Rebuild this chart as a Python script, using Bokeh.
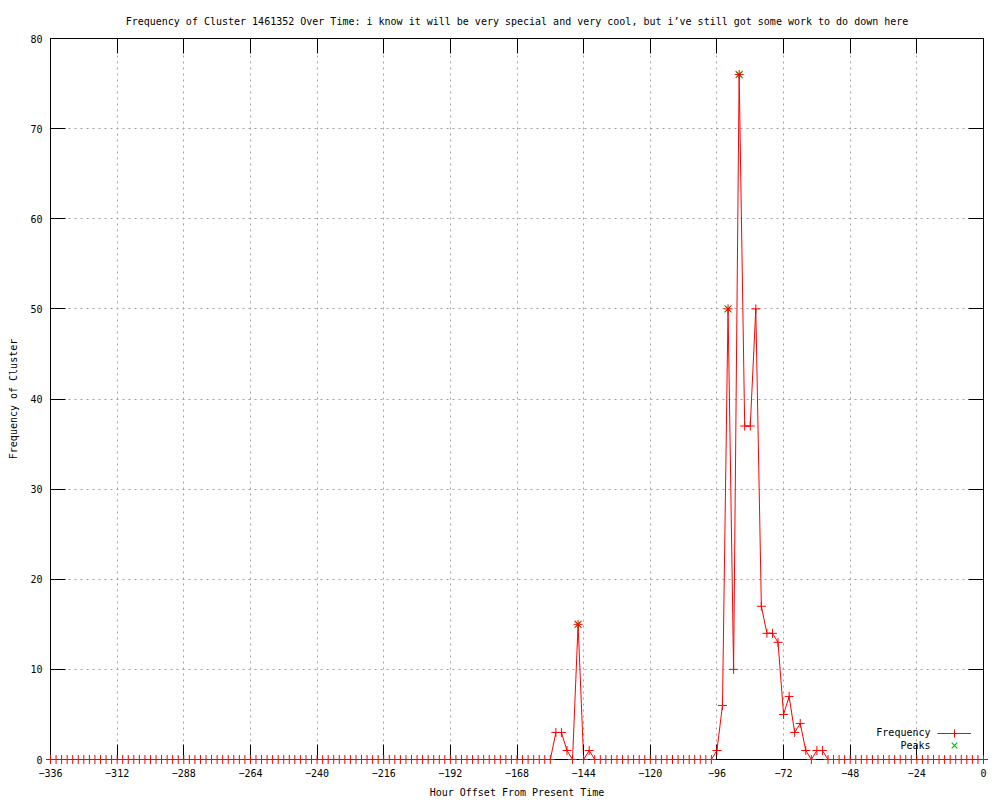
from bokeh.plotting import figure
from bokeh.models import Range1d, FixedTicker, LinearAxis, Legend, LegendItem, Label
from bokeh.embed import file_html
from bokeh.resources import INLINE

# ---- data ----
hours = list(range(-336, 1, 2))
frequency = [
    0, 0, 0, 0, 0, 0, 0, 0, 0, 0, 0, 0,      # -336 .. -314
    0, 0, 0, 0, 0, 0, 0, 0, 0, 0, 0, 0,      # -312 .. -290
    0, 0, 0, 0, 0, 0, 0, 0, 0, 0, 0, 0,      # -288 .. -266
    0, 0, 0, 0, 0, 0, 0, 0, 0, 0, 0, 0,      # -264 .. -242
    0, 0, 0, 0, 0, 0, 0, 0, 0, 0, 0, 0,      # -240 .. -218
    0, 0, 0, 0, 0, 0, 0, 0, 0, 0, 0, 0,      # -216 .. -194
    0, 0, 0, 0, 0, 0, 0, 0, 0, 0, 0, 0,      # -192 .. -170
    0, 0, 0, 0, 0, 0, 0, 3, 3, 1, 0, 15,     # -168 .. -146
    0, 1, 0, 0, 0, 0, 0, 0, 0, 0, 0, 0,      # -144 .. -122
    0, 0, 0, 0, 0, 0, 0, 0, 0, 0, 0, 0,      # -120 .. -98
    1, 6, 50, 10, 76, 37, 37, 50, 17, 14, 14, 13,  # -96 .. -74
    5, 7, 3, 4, 1, 0, 1, 1, 0, 0, 0, 0,      # -72 .. -50
    0, 0, 0, 0, 0, 0, 0, 0, 0, 0, 0, 0,      # -48 .. -26
    0, 0, 0, 0, 0, 0, 0, 0, 0, 0, 0, 0,      # -24 .. -2
    0,                                       # 0
]
peak_hours = [-146, -92, -88]
peak_values = [15, 50, 76]
x_ticks = [-336, -312, -288, -264, -240, -216, -192, -168, -144, -120, -96, -72, -48, -24, 0]
y_ticks = [0, 10, 20, 30, 40, 50, 60, 70, 80]

title_text = ("Frequency of Cluster 1461352 Over Time: i know it will be very special "
              "and very cool, but i\u2019ve still got some work to do down here")
x_label = "Hour Offset From Present Time"
y_label = "Frequency of Cluster"
legend_labels = ["Frequency", "Peaks"]

FONT = "DejaVu Sans Mono"
FS = "10px"

p = figure(width=1000, height=800, output_backend="svg", toolbar_location=None,
           x_range=Range1d(-336, 0), y_range=Range1d(0, 80),
           min_border_left=50, min_border_right=17, min_border_top=38, min_border_bottom=40,
           x_axis_label=x_label, y_axis_label=y_label)

p.title.text = title_text
p.title.align = "center"
p.title.text_font = FONT
p.title.text_font_size = FS
p.title.text_font_style = "normal"
p.title.text_color = "black"
p.title.standoff = 24

p.outline_line_color = "black"
p.outline_line_alpha = 1
p.outline_line_width = 1
p.background_fill_color = "white"
p.border_fill_color = "white"

xt = FixedTicker(ticks=x_ticks)
yt = FixedTicker(ticks=y_ticks)

for ax in (p.xaxis[0], p.yaxis[0]):
    ax.major_tick_in = 15
    ax.major_tick_out = 0
    ax.minor_tick_line_color = None
    ax.axis_line_color = "black"
    ax.major_tick_line_color = "black"
    ax.major_label_text_font = FONT
    ax.major_label_text_font_size = FS
    ax.major_label_text_color = "black"
    ax.axis_label_text_font = FONT
    ax.axis_label_text_font_size = FS
    ax.axis_label_text_font_style = "normal"
    ax.axis_label_text_color = "black"

p.xaxis[0].ticker = xt
p.yaxis[0].ticker = yt
p.xaxis[0].major_label_standoff = 9
p.xaxis[0].axis_label_standoff = 7
p.yaxis[0].major_label_standoff = 8
p.yaxis[0].axis_label_standoff = 8

top = LinearAxis(ticker=xt, major_tick_in=15, major_tick_out=0, minor_tick_line_color=None,
                 major_label_text_font_size="1px", major_label_text_color=None,
                 major_label_standoff=0,
                 axis_line_color="black", major_tick_line_color="black")
right = LinearAxis(ticker=yt, major_tick_in=15, major_tick_out=0, minor_tick_line_color=None,
                   major_label_text_font_size="1px", major_label_text_color=None,
                   major_label_standoff=0,
                   axis_line_color="black", major_tick_line_color="black")
p.add_layout(top, "above")
p.add_layout(right, "right")

p.xgrid.ticker = xt
p.ygrid.ticker = yt
for g in (p.xgrid[0], p.ygrid[0]):
    g.grid_line_color = "#a0a0a0"
    g.grid_line_dash = "2 4"
    g.grid_line_width = 1

line_r = p.line(hours, frequency, line_color="#ff0000", line_width=1)
cross_r = p.scatter(hours, frequency, marker="cross", size=9, line_color="#ff0000",
                    line_width=1, level="overlay")
peak_r = p.scatter(peak_hours, peak_values, marker="x", size=10, line_color="#00c000",
                   line_width=1.2)
p.scatter(peak_hours, peak_values, marker="x", size=7, line_color="#ff0000", line_width=1)

legend_kw = dict(orientation="vertical", glyph_width=34, glyph_height=20,
                 label_height=0, label_width=0, label_standoff=0, spacing=0,
                 padding=0, margin=0, border_line_color=None, background_fill_alpha=0,
                 label_text_font=FONT, label_text_font_size=FS)
leg1 = Legend(items=[LegendItem(label=" ", renderers=[line_r, cross_r])],
              location=(887, 16), **legend_kw)
leg2 = Legend(items=[LegendItem(label=" ", renderers=[peak_r])],
              location=(887, 4), **legend_kw)
p.add_layout(leg1, "center")
p.add_layout(leg2, "center")

for txt, yy in zip(legend_labels, (27, 14)):
    p.add_layout(Label(x=880, y=yy, x_units="screen", y_units="screen", text=txt,
                       text_align="right", text_baseline="middle",
                       text_font=FONT, text_font_size=FS, text_color="black"))

open("out.html", "w").write(file_html(p, INLINE))
